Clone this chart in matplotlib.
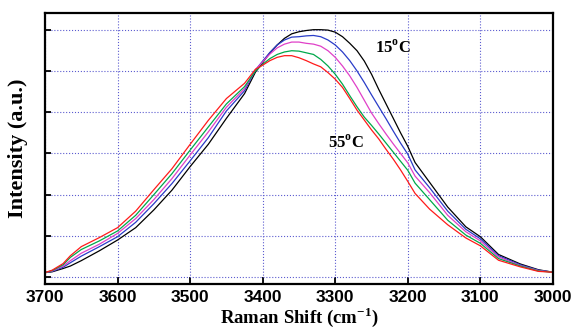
import matplotlib
matplotlib.use("Agg")
import matplotlib.pyplot as plt

# Raman shift (cm-1), shared by all spectra
shift = [3700, 3690, 3675, 3665, 3650, 3625, 3600, 3575, 3550, 3525, 3500, 3475,
         3450, 3425, 3410, 3400, 3390, 3380, 3370, 3360, 3350, 3340, 3330, 3320,
         3310, 3300, 3290, 3280, 3270, 3260, 3250, 3240, 3230, 3220, 3210, 3200,
         3190, 3170, 3145, 3120, 3100, 3075, 3045, 3020, 3000]

# intensities (a.u.), 15 C (black) -> 55 C (red)
i_black = [0.11, 0.13, 0.21, 0.27, 0.40, 0.64, 0.90, 1.20, 1.63, 2.11, 2.68, 3.22,
           3.85, 4.45, 4.97, 5.20, 5.44, 5.63, 5.79, 5.90, 5.95, 5.98, 6.00, 6.00,
           5.99, 5.94, 5.83, 5.67, 5.49, 5.24, 4.92, 4.55, 4.20, 3.85, 3.50, 3.17,
           2.78, 2.30, 1.70, 1.22, 0.98, 0.55, 0.32, 0.18, 0.12]
i_blue = [0.11, 0.14, 0.24, 0.35, 0.51, 0.74, 0.98, 1.33, 1.78, 2.27, 2.82, 3.38,
          4.03, 4.52, 5.02, 5.24, 5.45, 5.63, 5.75, 5.82, 5.83, 5.85, 5.86, 5.83,
          5.75, 5.63, 5.46, 5.25, 5.00, 4.72, 4.42, 4.13, 3.84, 3.54, 3.25, 2.98,
          2.60, 2.17, 1.60, 1.16, 0.93, 0.52, 0.30, 0.17, 0.12]
i_magenta = [0.11, 0.15, 0.27, 0.40, 0.58, 0.80, 1.06, 1.42, 1.88, 2.39, 2.96, 3.52,
             4.12, 4.57, 5.03, 5.22, 5.41, 5.56, 5.65, 5.70, 5.70, 5.67, 5.65, 5.60,
             5.49, 5.33, 5.12, 4.88, 4.60, 4.29, 3.98, 3.72, 3.47, 3.23, 3.00, 2.77,
             2.45, 2.05, 1.50, 1.10, 0.88, 0.49, 0.28, 0.16, 0.12]
i_green = [0.11, 0.16, 0.30, 0.48, 0.67, 0.88, 1.12, 1.50, 2.00, 2.51, 3.08, 3.64,
           4.20, 4.62, 5.00, 5.16, 5.30, 5.40, 5.46, 5.49, 5.48, 5.44, 5.40, 5.28,
           5.12, 4.92, 4.68, 4.40, 4.13, 3.88, 3.68, 3.47, 3.25, 3.03, 2.81, 2.59,
           2.28, 1.88, 1.38, 1.02, 0.82, 0.45, 0.27, 0.15, 0.12]
i_red = [0.11, 0.17, 0.33, 0.52, 0.74, 0.96, 1.20, 1.60, 2.12, 2.63, 3.22, 3.80,
         4.33, 4.70, 5.04, 5.14, 5.25, 5.33, 5.37, 5.37, 5.32, 5.25, 5.17, 5.10,
         4.96, 4.80, 4.60, 4.33, 4.05, 3.81, 3.57, 3.35, 3.10, 2.86, 2.60, 2.32,
         2.03, 1.65, 1.27, 0.95, 0.76, 0.41, 0.25, 0.14, 0.12]

spectra = [i_black, i_blue, i_magenta, i_green, i_red]
colors = ['#000000', '#2a3cc8', '#e040c8', '#00a84a', '#ff1a1a']

xticks = [3700, 3600, 3500, 3400, 3300, 3200, 3100, 3000]

fig = plt.figure(figsize=(5.73, 3.33), dpi=100)
ax = fig.add_axes([0.0785, 0.147, 0.8865, 0.814])

for y, c in zip(spectra, colors):
    ax.plot(shift, y, color=c, lw=0.9)

ax.set_xlim(3700, 3000)
ax.set_ylim(-0.167, 6.405)
ax.set_xticks(xticks)
ax.set_xticklabels([str(t) for t in xticks], fontfamily='Liberation Sans',
                   fontweight='bold', fontsize=12.5)
ax.set_yticks(range(7))
ax.set_yticklabels([])
ax.tick_params(axis='both', direction='in', length=5, width=1.3, pad=4)
ax.tick_params(axis='y', length=4)

ax.grid(True, linestyle=':', color='#5c5cd0', lw=0.8)
for s in ax.spines.values():
    s.set_linewidth(1.6)

serif = dict(fontfamily='Liberation Serif', fontweight='bold')
ax.set_ylabel('Intensity (a.u.)', fontsize=16, labelpad=8, **serif)
ax.set_xlabel(r'Raman Shift (cm$^{\mathregular{-1}}$)', fontsize=13.5, labelpad=0, **serif)

ax.text(3245, 5.45, r'15$^{\mathregular{o}}$C', fontsize=12, **serif)
ax.text(3310, 3.14, r'55$^{\mathregular{o}}$C', fontsize=12, **serif)

fig.savefig('out.png', dpi=100)
